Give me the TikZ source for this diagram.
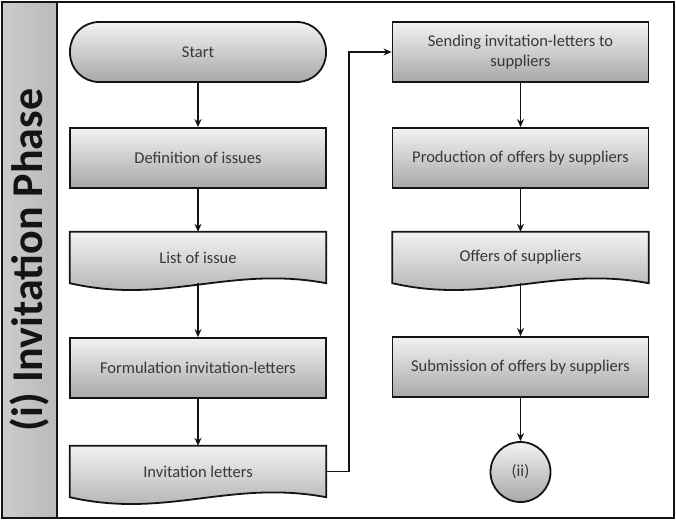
\documentclass[tikz,border=0pt]{standalone}
\usepackage{fontspec}
\setmainfont{Carlito}
\usetikzlibrary{calc,positioning,shapes.geometric,arrows.meta}
\definecolor{fg}{RGB}{20,20,20}
\definecolor{boxtop}{RGB}{242,242,242}
\definecolor{boxbot}{RGB}{168,168,168}

\tikzset{
    procbox/.style={rectangle,draw=fg,line width=1.8pt,top color=boxtop,
        bottom color=boxbot,minimum width=256pt,minimum height=60pt,
        align=center,font=\fontsize{16.5}{19.5}\selectfont,text=black!78},
    docbox/.style={rectangle,minimum width=256pt,minimum height=51pt,
        align=center,font=\fontsize{16.5}{19.5}\selectfont,text=black!78},
    termbox/.style={procbox,rounded corners=29pt},
    connbox/.style={circle,draw=fg,line width=1.8pt,top color=boxtop,
        bottom color=boxbot,minimum size=60pt,inner sep=0pt,
        font=\fontsize{16.5}{19.5}\selectfont,text=black!78},
    arr/.style={-{Stealth[length=8pt,width=7pt]},line width=1.8pt,fg}
}

% wavy bottom of a document node
\newcommand{\docshape}[1]{%
    \draw[fg,line width=1.8pt,top color=boxtop,bottom color=boxbot]
        (#1.north west) -- (#1.north east) -- (#1.south east)
        .. controls ($(#1.south east)+(-96,-18)$) and ($(#1.south west)+(96,22)$)
        .. (#1.south west) -- cycle;}

\begin{document}
\begin{tikzpicture}[x=1pt,y=-1pt]
    \useasboundingbox (0,0) rectangle (676,520);

    % frame and side band
    \shade[left color=gray!40,middle color=gray!12,right color=gray!55]
        (2,2) rectangle (57,518);
    \draw[fg,line width=2.4pt] (2,2) rectangle (674,518);
    \draw[fg,line width=2.4pt] (57,2) -- (57,518);
    \node[rotate=90,font=\fontsize{44}{50}\selectfont\bfseries,text=fg]
        (phase) at (30,260) {(i) Invitation Phase};

    % left column
    \node[termbox] (start) at (198,52) {Start};
    \node[procbox] (define) at (198,158) {Definition of issues};
    \node[docbox] (issues) at (198,257.5) {};
    \docshape{issues}
    \node[docbox] at (issues) {List of issue};
    \node[procbox] (formulate) at (198,368) {Formulation invitation-letters};
    \node[docbox] (letters) at (198,471.5) {};
    \docshape{letters}
    \node[docbox] at (letters) {Invitation letters};

    % right column
    \node[procbox] (send) at (520.5,52) {Sending invitation-letters to\\suppliers};
    \node[procbox] (produce) at (520.5,158) {Production of offers by suppliers};
    \node[docbox] (offers) at (520.5,257.5) {};
    \docshape{offers}
    \node[docbox] at (offers) {Offers of suppliers};
    \node[procbox] (submit) at (520.5,367) {Submission of offers by suppliers};
    \node[connbox] (next) at (520.5,472) {(ii)};

    \coordinate (turn) at (349,0);

    \path[arr] (start) edge (define)
        (define) edge (issues)
        (issues) edge (formulate)
        (formulate) edge (letters)
        (send) edge (produce)
        (produce) edge (offers)
        (offers) edge (submit)
        (submit) edge (next);
    \draw[arr] (letters.east) -- (letters.east -| turn) |- (send.west);
\end{tikzpicture}
\end{document}
